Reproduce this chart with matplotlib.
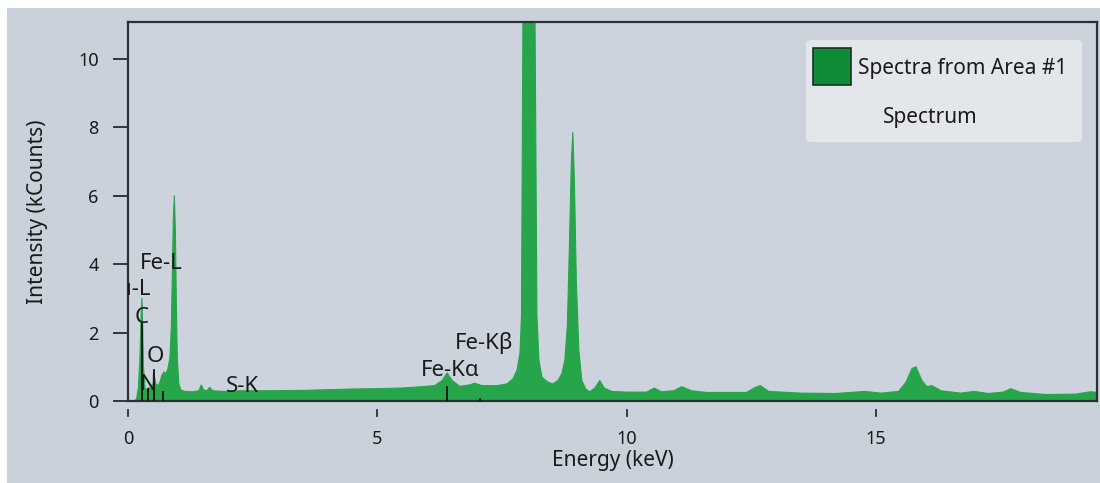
import matplotlib
matplotlib.use('Agg')
import matplotlib.pyplot as plt
import matplotlib.transforms as mtransforms
from matplotlib.patches import FancyBboxPatch, Rectangle

# Spectrum (keV, kCounts)
energy = [0.00, 0.12, 0.17, 0.21, 0.24, 0.265, 0.28, 0.295, 0.31, 0.34,
          0.38, 0.42, 0.46, 0.50, 0.53, 0.56, 0.60, 0.64, 0.68, 0.72,
          0.76, 0.80, 0.84, 0.87, 0.89, 0.91, 0.93, 0.95, 0.97, 0.99,
          1.02, 1.06, 1.15, 1.30, 1.42, 1.47, 1.52, 1.58, 1.64, 1.70,
          1.90, 2.30, 2.80, 3.50, 4.00, 4.50, 5.00, 5.50, 5.90, 6.15,
          6.30, 6.40, 6.50, 6.65, 6.85, 6.95, 7.10, 7.40, 7.60, 7.72,
          7.80, 7.86, 7.89, 7.92, 8.04, 8.16, 8.20, 8.24, 8.30, 8.42,
          8.52, 8.62, 8.70, 8.76, 8.81, 8.85, 8.89, 8.92, 8.95, 8.99,
          9.04, 9.10, 9.18, 9.26, 9.36, 9.46, 9.55, 9.70, 10.00, 10.40,
          10.55, 10.70, 10.95, 11.10, 11.30, 11.60, 12.40, 12.58, 12.68, 12.85,
          13.50, 14.20, 14.77, 15.10, 15.45, 15.60, 15.72, 15.80, 15.92, 16.02,
          16.12, 16.30, 16.70, 16.97, 17.25, 17.55, 17.70, 17.90, 18.40, 19.00,
          19.30, 19.45]
counts = [0.00, 0.00, 0.05, 0.40, 1.30, 2.60, 3.00, 2.20, 1.00, 0.40,
          0.30, 0.40, 0.35, 0.50, 0.70, 0.50, 0.45, 0.55, 0.75, 0.85,
          0.80, 0.95, 1.25, 2.20, 3.80, 5.40, 6.00, 5.00, 2.80, 1.20,
          0.50, 0.32, 0.28, 0.27, 0.30, 0.47, 0.32, 0.30, 0.40, 0.30,
          0.28, 0.30, 0.30, 0.31, 0.33, 0.35, 0.36, 0.38, 0.42, 0.45,
          0.60, 0.82, 0.60, 0.43, 0.47, 0.52, 0.45, 0.45, 0.50, 0.65,
          0.90, 1.40, 2.50, 11.50, 25.00, 11.50, 2.50, 1.20, 0.70, 0.55,
          0.50, 0.60, 0.80, 1.20, 2.20, 4.50, 7.00, 7.85, 6.50, 3.50,
          1.50, 0.60, 0.35, 0.27, 0.38, 0.60, 0.38, 0.28, 0.26, 0.26,
          0.38, 0.27, 0.30, 0.42, 0.30, 0.25, 0.25, 0.40, 0.45, 0.28,
          0.23, 0.22, 0.28, 0.23, 0.28, 0.55, 0.95, 1.00, 0.60, 0.42,
          0.45, 0.30, 0.23, 0.28, 0.22, 0.26, 0.36, 0.25, 0.19, 0.20,
          0.27, 0.25]

# Element markers
marker_names = ['C', 'N', 'O', 'Fe-L', 'Fe-Kα', 'Fe-Kβ']
marker_energy = [0.277, 0.392, 0.525, 0.705, 6.40, 7.06]
marker_height = [2.25, 0.35, 0.9, 0.25, 0.4, 0.05]

xticks = [0, 5, 10, 15]
yticks = [0, 2, 4, 6, 8, 10]

bg = '#c9d1da'
green = '#27a54b'
font = 'Noto Sans'
plt.rcParams['font.family'] = [font, 'DejaVu Sans']

W, H = 1100, 483
fig = plt.figure(figsize=(11, 4.83), dpi=100, facecolor='white')
# grey panel, leaving thin white strip top and left
fig.patches.append(Rectangle((7 / W, 0), 1, 1 - 8 / H, transform=fig.transFigure,
                             facecolor=bg, edgecolor='none', zorder=-5))

ax = fig.add_axes([128 / W, 1 - 401 / H, 969 / W, 379 / H])
ax.set_zorder(1)
ax.set_facecolor('#ccd3dc')
ax.fill_between(energy, counts, 0, color=green, lw=0.8, zorder=2)
ax.set_xlim(0, 19.43)
ax.set_ylim(0, 11.08)

for e, h in zip(marker_energy, marker_height):
    ax.plot([e, e], [0, h], color='#111111', lw=1.3, zorder=3)

# labels (position in keV / kCounts, alignment)
lab_kw = dict(fontsize=16, color='#1a1a1a', zorder=4, va='center')
ax.text(0.24, 4.03, 'Fe-L', ha='left', **lab_kw)
ax.text(0.47, 3.25, 'Cu-L', ha='right', clip_on=True, **lab_kw)
ax.text(0.28, 2.43, 'C', ha='center', **lab_kw)
ax.text(0.54, 1.29, 'O', ha='center', **lab_kw)
ax.text(0.40, 0.47, 'N', ha='center', **lab_kw)
ax.text(1.96, 0.41, 'S-K', ha='left', **lab_kw)
ax.text(5.87, 0.88, 'Fe-Kα', ha='left', **lab_kw)
ax.text(6.55, 1.70, 'Fe-Kβ', ha='left', **lab_kw)

for s in ax.spines.values():
    s.set_color('#2b3036')
    s.set_linewidth(1.6)

ax.set_yticks(yticks)
ax.set_xticks(xticks)
ax.tick_params(axis='y', direction='out', length=11, width=1.2, pad=10,
               labelsize=13, colors='#1a1a1a')
ax.tick_params(axis='x', length=0, pad=21, labelsize=13, colors='#1a1a1a')
# x tick marks sit a little below the axis line
trans = mtransforms.blended_transform_factory(ax.transData, ax.transAxes)
for t in xticks:
    ax.plot([t, t], [-9 / 379, -15 / 379], transform=trans, color='#2b3036',
            lw=1.3, clip_on=False)

ax.set_xlabel('Energy (keV)', fontsize=15, color='#1a1a1a', labelpad=1)
ax.set_ylabel('Intensity (kCounts)', fontsize=15, color='#1a1a1a', labelpad=22)

# legend box
def fx(px):
    return px / W

def fy(py):
    return 1 - py / H

box = FancyBboxPatch((fx(806), fy(142)), fx(1082) - fx(806), fy(40) - fy(142),
                     boxstyle='round,pad=0,rounding_size=0.006',
                     transform=fig.transFigure, facecolor='#e3e7ec',
                     edgecolor='none', zorder=5)
fig.patches.append(box)
fig.patches.append(Rectangle((fx(813), fy(85)), fx(851) - fx(813), fy(48) - fy(85),
                             transform=fig.transFigure, facecolor='#0e8b34',
                             edgecolor='#1f2d22', lw=1.2, zorder=6))
fig.text(fx(858), fy(69), 'Spectra from Area #1', fontsize=15, color='#1a1a1a',
         va='center', ha='left', zorder=7)
fig.text(fx(883), fy(118), 'Spectrum', fontsize=15, color='#1a1a1a',
         va='center', ha='left', zorder=7)

fig.savefig('out.png', dpi=100, facecolor='white')
